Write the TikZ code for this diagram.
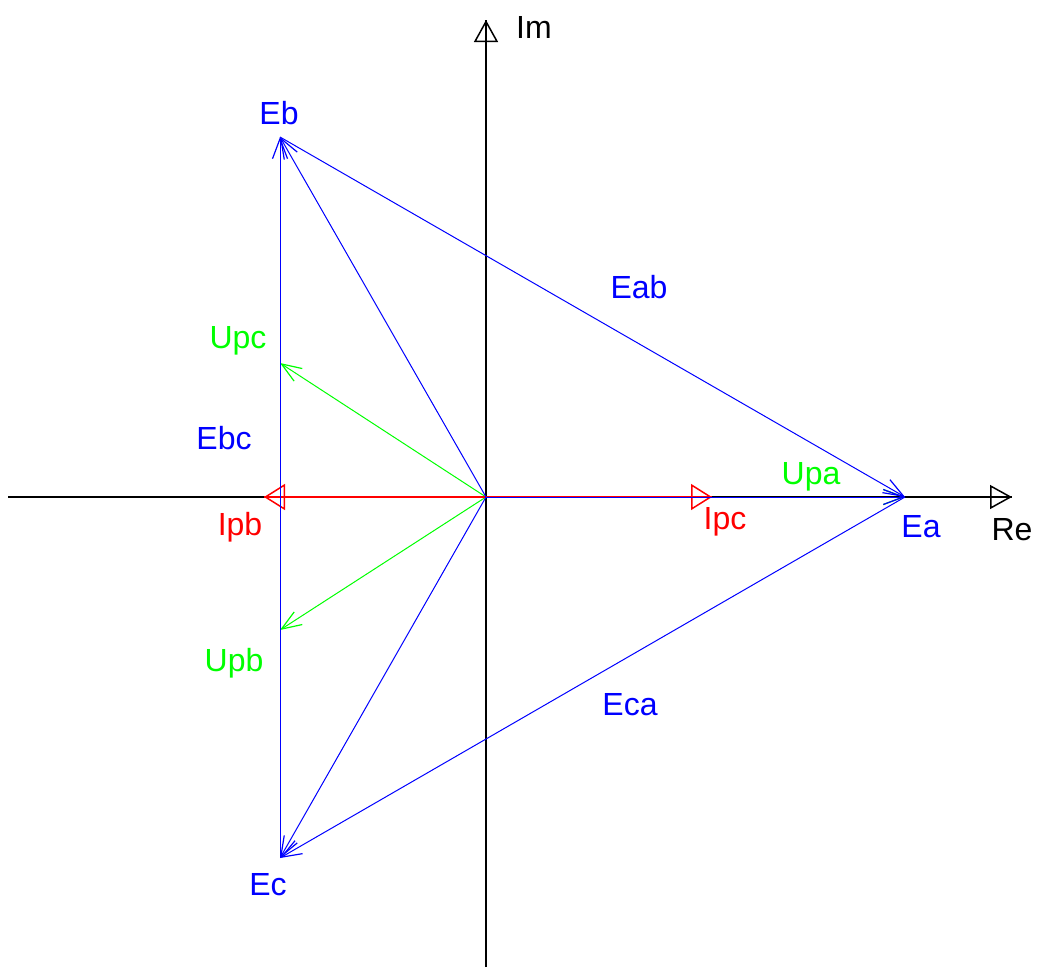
\documentclass[tikz,border=0pt]{standalone}
\usepackage{fontspec}
\setmainfont{Liberation Sans}
\usetikzlibrary{arrows.meta}

\begin{document}
\begin{tikzpicture}[
    x=1pt, y=-1pt,
    axis/.style={line width=1.5pt},
    axtip/.style={line width=1.5pt, -{Triangle[open, length=22pt, width=24pt]}},
    vec/.style={line width=1pt, -{Straight Barb[length=20pt, width=15pt, line width=1.2pt]}},
    cur/.style={red, line width=1.5pt, -{Triangle[open, length=21pt, width=26pt]}},
    lbl/.style={font=\fontsize{32}{36}\selectfont, inner sep=0pt}
]
\useasboundingbox (0,0) rectangle (1039,967);
% points
\coordinate (O) at (486,497);
\coordinate (Ea) at (905,497);
\coordinate (Eb) at (280,137);
\coordinate (Ec) at (280,858);
\coordinate (Upc) at (280,363);
\coordinate (Upb) at (280,630);
\coordinate (Ipb) at (264,497);
\coordinate (Ipc) at (712,497);
\coordinate (west) at (8,497);
\coordinate (east) at (1012,497);
\coordinate (south) at (486,967);
\coordinate (north) at (486,20);
% axes
\draw[axis] (west) -- (east);
\draw[axis] (south) -- (north);
\draw[axtip] (O) -- (east);
\draw[axtip] (O) -- (north);
% voltages
\draw[vec, green] (O) -- (Ea);
\draw[vec, green] (O) -- (Upc);
\draw[vec, green] (O) -- (Upb);
% currents
\draw[red, line width=1.5pt] (O) -- (Ipb);
\draw[red, line width=1.5pt] (O) -- (Ipc);
\draw[cur] (O) -- (Ipb);
\draw[cur] (O) -- (Ipc);
% emf
\draw[vec, blue] (O) -- (Ea);
\draw[vec, blue] (O) -- (Eb);
\draw[vec, blue] (O) -- (Ec);
\draw[vec, blue] (Eb) -- (Ea);
\draw[vec, blue] (Ea) -- (Ec);
\draw[vec, blue] (Ec) -- (Eb);
% labels
\node[lbl] (lIm) at (534,27) {Im};
\node[lbl] (lRe) at (1012,530) {Re};
\node[lbl, blue] (lEb) at (279,113) {Eb};
\node[lbl, blue] (lEa) at (921,527) {Ea};
\node[lbl, blue] (lEc) at (268,885) {Ec};
\node[lbl, blue] (lEab) at (639,287) {Eab};
\node[lbl, blue] (lEbc) at (224,438) {Ebc};
\node[lbl, blue] (lEca) at (630,705) {Eca};
\node[lbl, green] (lUpa) at (811,477) {Upa};
\node[lbl, green] (lUpb) at (234,663) {Upb};
\node[lbl, green] (lUpc) at (238,341) {Upc};
\node[lbl, red] (lIpb) at (240,527) {Ipb};
\node[lbl, red] (lIpc) at (725,522) {Ipc};
\end{tikzpicture}
\end{document}
